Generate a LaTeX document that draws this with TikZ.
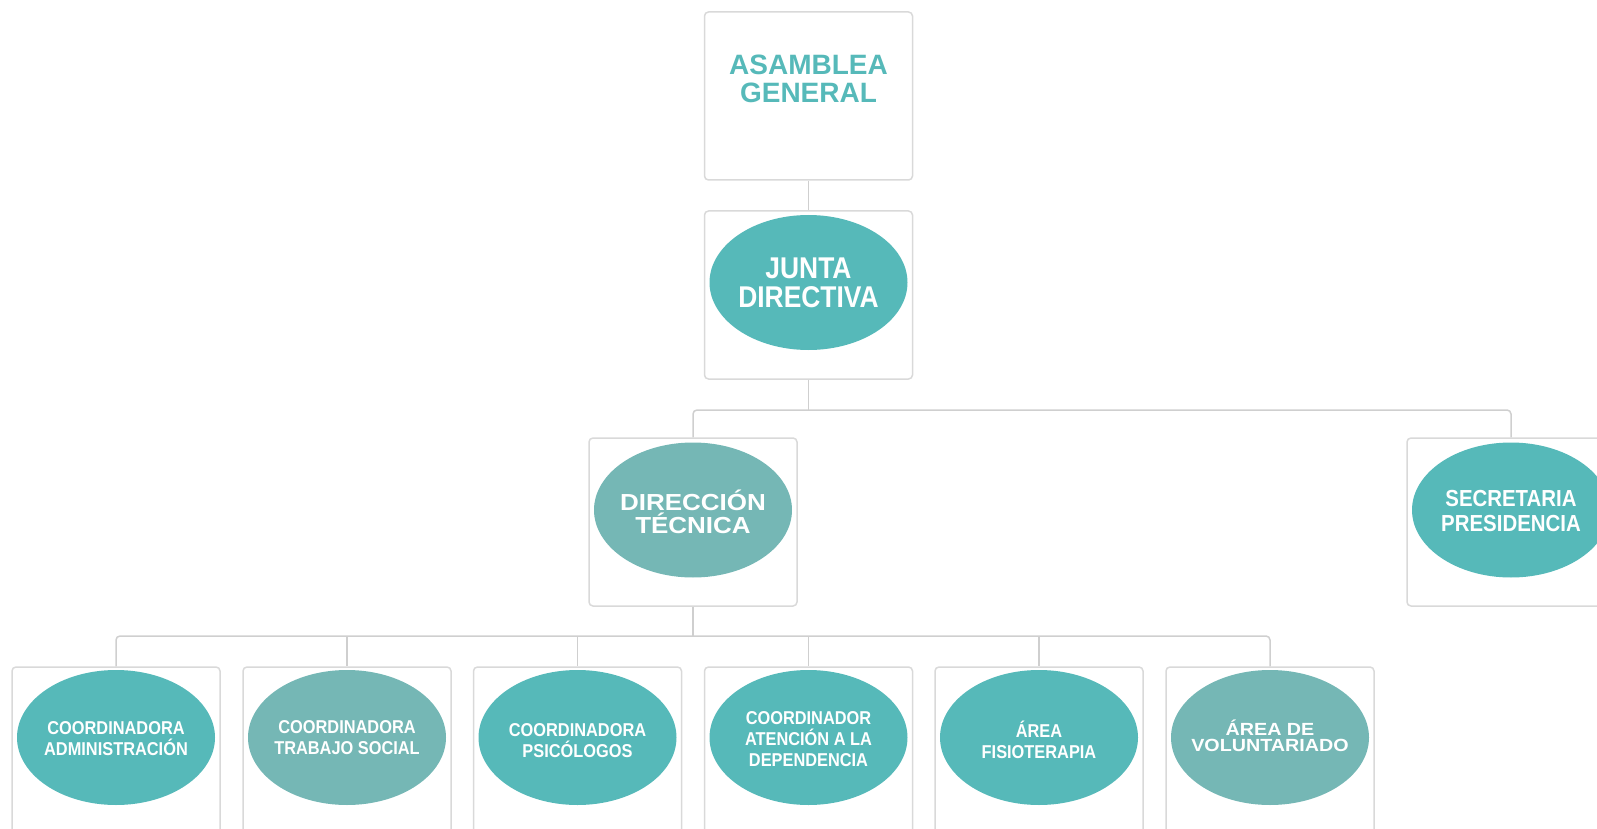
\documentclass[tikz,border=0pt]{standalone}
\usepackage{fontspec}
\setmainfont{Liberation Sans}
\newfontfamily\narrowsf[FakeStretch=0.88]{Liberation Sans}
\newfontfamily\widesf[FakeStretch=1.12]{Liberation Sans}
\usetikzlibrary{shapes.geometric}
\definecolor{tealA}{HTML}{56B9B9}
\definecolor{tealB}{HTML}{75B7B5}
\definecolor{boxgray}{HTML}{D9D9D9}
\definecolor{linegray}{HTML}{CFCFCF}

\begin{document}
\begin{tikzpicture}[x=0.5pt,y=-0.5pt,
  box/.style={draw=boxgray,line width=0.75pt,rounded corners=2pt,minimum width=104pt,minimum height=84pt,inner sep=0pt},
  oval/.style={ellipse,minimum width=99pt,minimum height=67.5pt,inner sep=0pt},
  ovtxt/.style={text=white,align=center,inner sep=0pt,font=\narrowsf\bfseries\fontsize{9.3}{10.5}\selectfont},
  link/.style={draw=linegray,line width=0.75pt,rounded corners=2pt}]
\useasboundingbox (0,0) rectangle (1597,829);
% top levels
\node[box] (asb) at (808.5,96) {};
\node[text=tealA,align=center,inner sep=0pt,font=\bfseries\fontsize{14}{14}\selectfont] (asbt) at (808.5,79) {ASAMBLEA\\GENERAL};
\node[box] (jbox) at (808.5,295) {};
\node[oval,fill=tealA] (junta) at (808.5,282.5) {};
\node[ovtxt,font=\narrowsf\bfseries\fontsize{15}{14.5}\selectfont] (juntat) at (junta) {JUNTA\\DIRECTIVA};
% second level
\node[box] (dbox) at (693,522) {};
\node[oval,fill=tealB] (dir) at (693,510) {};
\node[ovtxt,font=\widesf\bfseries\fontsize{11.6}{11.5}\selectfont] (dirt) at (693,512) {DIRECCIÓN\\TÉCNICA};
\node[box] (sbox) at (1511,522) {};
\node[oval,fill=tealA] (sec) at (1511,510) {};
\node[ovtxt,font=\narrowsf\bfseries\fontsize{11.6}{12.5}\selectfont] (sect) at (1511,511) {SECRETARIA\\PRESIDENCIA};
% third level
\node[box] (c1box) at (116,751) {};
\node[oval,fill=tealA] (c1) at (116,737.5) {};
\node[ovtxt] (c1t) at (116,739) {COORDINADORA\\ADMINISTRACIÓN};
\node[box] (c2box) at (347,751) {};
\node[oval,fill=tealB] (c2) at (347,737.5) {};
\node[ovtxt] (c2t) at (347,738) {COORDINADORA\\TRABAJO SOCIAL};
\node[box] (c3box) at (577.5,751) {};
\node[oval,fill=tealA] (c3) at (577.5,737.5) {};
\node[ovtxt] (c3t) at (577.5,741) {COORDINADORA\\PSICÓLOGOS};
\node[box] (c4box) at (808.5,751) {};
\node[oval,fill=tealA] (c4) at (808.5,737.5) {};
\node[ovtxt] (c4t) at (808.5,739) {COORDINADOR\\ATENCIÓN A LA\\DEPENDENCIA};
\node[box] (c5box) at (1039,751) {};
\node[oval,fill=tealA] (c5) at (1039,737.5) {};
\node[ovtxt] (c5t) at (1039,740) {ÁREA\\FISIOTERAPIA};
\node[box] (c6box) at (1270,751) {};
\node[oval,fill=tealB] (c6) at (1270,737.5) {};
\node[ovtxt,font=\widesf\bfseries\fontsize{8.8}{7.8}\selectfont] (c6t) at (1270,736) {ÁREA DE\\VOLUNTARIADO};
% connectors
\coordinate (bus1) at (808.5,410);
\coordinate (bus2) at (693,636);
\draw[link] (asb.south) -- (jbox.north);
\draw[link] (jbox.south) -- (bus1);
\draw[link] (dbox.north) |- (bus1) -| (sbox.north);
\draw[link] (dbox.south) -- (bus2);
\draw[link] (c1box.north) |- (bus2) -| (c6box.north);
\draw[link] (c2box.north |- bus2) -- (c2box.north);
\draw[link] (c3box.north |- bus2) -- (c3box.north);
\draw[link] (c4box.north |- bus2) -- (c4box.north);
\draw[link] (c5box.north |- bus2) -- (c5box.north);
\end{tikzpicture}
\end{document}
